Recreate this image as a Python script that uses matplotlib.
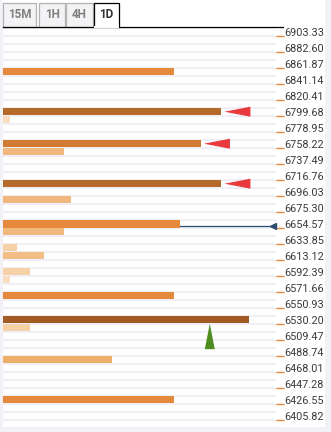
import matplotlib
matplotlib.use("Agg")
import matplotlib.pyplot as plt
from matplotlib.patches import Rectangle, Polygon
from matplotlib.lines import Line2D

# ---------------- data ----------------
tick_prices = [6903.33, 6882.60, 6861.87, 6841.14, 6820.41, 6799.68, 6778.95,
               6758.22, 6737.49, 6716.76, 6696.03, 6675.30, 6654.57, 6633.85,
               6613.12, 6592.39, 6571.66, 6550.93, 6530.20, 6509.47, 6488.74,
               6468.01, 6447.28, 6426.55, 6405.82]
bar_prices = [6856.69, 6804.86, 6794.50, 6763.40, 6753.04, 6711.58, 6690.85,
              6659.42, 6649.39, 6628.66, 6618.29, 6597.56, 6587.20, 6566.47,
              6535.38, 6525.01, 6483.55, 6431.73]
bar_strength = [25, 32, 1, 29, 9, 32, 10, 26, 9, 2, 6, 4, 1, 25, 36, 4, 16, 25]
red_arrow_prices = [6804.86, 6763.40, 6711.58]
current_price = 6657.2
green_arrow_price = 6530.20
green_arrow_x = 30.3
timeframes = ["15M", "1H", "4H", "1D"]
active_tf = "1D"

W, H = 331, 432
row_h = (tick_prices[0] - tick_prices[1]) / 2.0
y_top = tick_prices[0] + row_h
n_rows = 50
y_bot = y_top - n_rows * row_h
x_max = 40.0


def bar_color(s):
    if s >= 35:
        return "#a15b23"
    if s >= 31:
        return "#b56a2b"
    if s >= 28:
        return "#d07b31"
    if s >= 20:
        return "#e58a3c"
    if s >= 14:
        return "#edae68"
    if s >= 8:
        return "#f0b87c"
    if s >= 5:
        return "#f2be86"
    if s >= 2:
        return "#f6d0a6"
    return "#fadcc0"


fig = plt.figure(figsize=(W / 100, H / 100), dpi=100)
fig.patch.set_facecolor("#f1f1f6")

# white panel
fig.add_artist(Rectangle((3 / W, (H - 427) / H), 322 / W, 427 / H,
                         transform=fig.transFigure, facecolor="white",
                         edgecolor="none", zorder=0))

# tabs
tabs_x = [(3, 36), (39, 65), (66, 93), (94, 119)]
tab_top, tab_bot = 3, 27
for (x0, x1), tf in zip(tabs_x, timeframes):
    active = tf == active_tf
    fc = "white" if active else "#f3f3f6"
    ec = "black" if active else "#b3b3b3"
    fig.add_artist(Rectangle((x0 / W, (H - tab_bot) / H), (x1 - x0) / W,
                             (tab_bot - tab_top) / H, transform=fig.transFigure,
                             facecolor=fc, edgecolor=ec, linewidth=0.9, zorder=2))
    fig.text((x0 + x1) / 2 / W, (H - 15) / H, tf, ha="center", va="center",
             fontsize=8.4, fontweight="bold", family="Roboto",
             color="#333333" if active else "#7e7e7e", zorder=3)
    if active:
        fig.add_artist(Line2D([(x0 + 0.8) / W, (x1 - 0.8) / W],
                              [(H - tab_bot) / H] * 2, transform=fig.transFigure,
                              color="white", linewidth=1.4, zorder=4))
fig.add_artist(Line2D([3 / W, 94 / W], [(H - tab_bot) / H] * 2,
                      transform=fig.transFigure, color="black", lw=0.9, zorder=3))
fig.add_artist(Line2D([119 / W, 283 / W], [(H - tab_bot) / H] * 2,
                      transform=fig.transFigure, color="black", lw=0.9, zorder=3))

# main axes
ax_l, ax_r = 3, 276
ax_t, ax_b = 27.7, 427.7
ax = fig.add_axes([ax_l / W, (H - ax_b) / H, (ax_r - ax_l) / W, (ax_b - ax_t) / H])
ax.set_facecolor("white")
ax.set_xlim(0, x_max)
ax.set_ylim(y_bot, y_top)
for sp in ax.spines.values():
    sp.set_visible(False)

# row separators
for r in range(n_rows + 1):
    ax.axhline(y_top - r * row_h, color="#efeff5", lw=1.5, zorder=1)

# current price line
ax.plot([0, 39.6], [current_price, current_price], color="#2d4b6e", lw=0.9,
        zorder=2)
ax.plot([39.6], [current_price], marker="<", markersize=5, color="#2d4b6e",
        zorder=3, clip_on=False)

# bars
ax.barh(bar_prices, bar_strength, height=row_h * 0.9, left=0,
        color=[bar_color(s) for s in bar_strength], zorder=4)

# red arrows
px = x_max / (ax_r - ax_l)          # data units per pixel (x)
py = row_h / 8.0                    # price units per pixel (y)
for p in red_arrow_prices:
    s = bar_strength[bar_prices.index(p)]
    tip = s + 3 * px
    base = tip + 26 * px
    ax.add_patch(Polygon([[tip, p], [base, p + 5 * py], [base, p - 5 * py]],
                         closed=True, facecolor="#e8393c", edgecolor="none",
                         zorder=5))

# green arrow
ax.add_patch(Polygon([[green_arrow_x, green_arrow_price],
                      [green_arrow_x - 5 * px, green_arrow_price - 25.5 * py],
                      [green_arrow_x + 5 * px, green_arrow_price - 25.5 * py]],
                     closed=True, facecolor="#4f8d20", edgecolor="none", zorder=5))

# axis ticks
ax.set_xticks([])
ax.yaxis.tick_right()
ax.set_yticks(tick_prices)
ax.set_yticklabels([f"{t:.2f}" for t in tick_prices])
ax.tick_params(axis="y", which="major", length=5.5, width=1.0, color="#e58a3c",
               pad=0.5, labelsize=7.8, labelcolor="#3a3a3a")
for lab in ax.get_yticklabels():
    lab.set_family("Roboto")
    lab.set_verticalalignment("baseline")

fig.savefig("out.png", dpi=100, facecolor=fig.get_facecolor())
